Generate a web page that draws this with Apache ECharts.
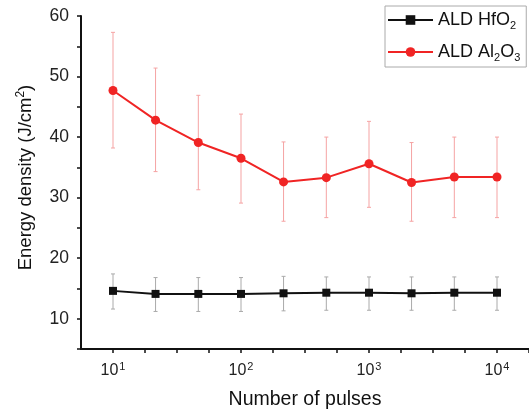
<!DOCTYPE html>
<html>
<head>
<meta charset="utf-8">
<script src="https://cdn.jsdelivr.net/npm/echarts@6/dist/echarts.min.js"></script>
<style>
  html, body { margin: 0; padding: 0; background: #fff; }
  #chart { width: 529px; height: 415px; }
</style>
</head>
<body>
<div id="chart"></div>
<script>
// number of pulses (x, log scale)
const pulses = [10, 21.5, 46.4, 100, 215, 464, 1000, 2150, 4640, 10000];

// ALD HfO2
const hfo2 = [14.6, 14.1, 14.1, 14.1, 14.2, 14.3, 14.3, 14.2, 14.3, 14.3];
const hfo2Low = [11.6, 11.2, 11.2, 11.2, 11.3, 11.4, 11.4, 11.4, 11.4, 11.4];
const hfo2High = [17.4, 16.8, 16.8, 16.8, 17.0, 16.9, 16.9, 16.9, 16.9, 16.9];

// ALD Al2O3
const al2o3 = [47.7, 42.8, 39.1, 36.5, 32.6, 33.3, 35.6, 32.5, 33.4, 33.4];
const al2o3Low = [38.2, 34.3, 31.3, 29.1, 26.1, 26.7, 28.4, 26.1, 26.7, 26.7];
const al2o3High = [57.3, 51.4, 46.9, 43.8, 39.2, 40.0, 42.6, 39.1, 40.0, 40.0];

// x tick exponents (quarter decades) and labelled decades
const xTickExp = [1, 1.25, 1.5, 1.75, 2, 2.25, 2.5, 2.75, 3, 3.25, 3.5, 3.75, 4, 4.25];
const xLabelExp = [1, 2, 3, 4];

const FONT = '"Liberation Sans", Arial, sans-serif';

function pairs(xs, ys) {
    return xs.map(function (x, i) { return [x, ys[i]]; });
}
function errData(xs, lo, hi) {
    return xs.map(function (x, i) { return [x, lo[i], hi[i]]; });
}
function errRender(color) {
    return function (params, api) {
        let top = api.coord([api.value(0), api.value(2)]);
        let bot = api.coord([api.value(0), api.value(1)]);
        let cap = 2;
        let st = { stroke: color, lineWidth: 1 };
        return {
            type: 'group',
            children: [
                { type: 'line', shape: { x1: top[0], y1: top[1], x2: bot[0], y2: bot[1] }, style: st },
                { type: 'line', shape: { x1: top[0] - cap, y1: top[1], x2: top[0] + cap, y2: top[1] }, style: st },
                { type: 'line', shape: { x1: bot[0] - cap, y1: bot[1], x2: bot[0] + cap, y2: bot[1] }, style: st }
            ]
        };
    };
}

let chart = echarts.init(document.getElementById('chart'));
let option = {
    backgroundColor: '#fff',
    animation: false,
    textStyle: { fontFamily: FONT },
    grid: { left: 81, right: 0, top: 16, bottom: 64 },
    legend: {
        left: 385,
        top: 6,
        orient: 'vertical',
        data: ['ALD HfO2', 'ALD Al2O3'],
        itemWidth: 45,
        itemHeight: 12,
        itemGap: 12,
        padding: [5, 6, 4, 2],
        borderColor: '#aaa',
        borderWidth: 1,
        textStyle: {
            fontFamily: FONT, fontSize: 18, color: '#111',
            rich: {
                n: { fontSize: 18, fontFamily: FONT, color: '#111' },
                sub: { fontSize: 11, fontFamily: FONT, color: '#111', padding: [11, 0, 0, 0] }
            }
        },
        formatter: function (name) {
            if (name === 'ALD HfO2') return '{n|ALD HfO}{sub|2}';
            return '{n|ALD Al}{sub|2}{n|O}{sub|3}';
        }
    },
    xAxis: {
        type: 'log',
        logBase: 10,
        min: Math.pow(10, 0.75),
        max: Math.pow(10, 4.25),
        name: 'Number of pulses',
        nameLocation: 'middle',
        nameGap: 41,
        nameTextStyle: { fontFamily: FONT, fontSize: 19.5, color: '#111' },
        axisLine: { lineStyle: { color: '#111', width: 2 } },
        axisTick: {
            inside: false, length: 4,
            lineStyle: { color: '#111', width: 1.5 },
            customValues: xTickExp.map(function (e) { return Math.pow(10, e); })
        },
        axisLabel: {
            margin: 12,
            customValues: xLabelExp.map(function (e) { return Math.pow(10, e); }),
            formatter: function (v) {
                return '{b|10}{sup|' + Math.round(Math.log10(v)) + '}';
            },
            rich: {
                b: { fontSize: 16, fontFamily: FONT, color: '#222' },
                sup: { fontSize: 11, fontFamily: FONT, color: '#222', padding: [0, 0, 9, 1] }
            }
        },
        splitLine: { show: false },
        minorSplitLine: { show: false }
    },
    yAxis: {
        type: 'value',
        min: 5,
        max: 60,
        interval: 5,
        name: 'Energy density (J/cm{sup|2})',
        nameLocation: 'middle',
        nameGap: 44,
        nameTextStyle: {
            fontFamily: FONT, fontSize: 18.5, color: '#111',
            padding: [0, 0, 0, 10],
            rich: {
                sup: { fontSize: 12, fontFamily: FONT, color: '#111', padding: [0, 0, 10, 0] }
            }
        },
        axisLine: { show: true, lineStyle: { color: '#111', width: 2 } },
        axisTick: { show: true, length: 4, lineStyle: { color: '#111', width: 1.5 } },
        axisLabel: {
            margin: 12,
            fontSize: 17.5,
            color: '#222',
            fontFamily: FONT,
            formatter: function (v) { return v % 10 === 0 ? String(v) : ''; }
        },
        splitLine: { show: false }
    },
    series: [
        {
            name: 'err HfO2',
            type: 'custom',
            renderItem: errRender('#aaaaaa'),
            data: errData(pulses, hfo2Low, hfo2High),
            encode: { x: 0, y: [1, 2] },
            z: 1,
            silent: true
        },
        {
            name: 'err Al2O3',
            type: 'custom',
            renderItem: errRender('#f5a3a3'),
            data: errData(pulses, al2o3Low, al2o3High),
            encode: { x: 0, y: [1, 2] },
            z: 1,
            silent: true
        },
        {
            name: 'ALD HfO2',
            type: 'line',
            data: pairs(pulses, hfo2),
            symbol: 'rect',
            symbolSize: 8,
            color: '#111',
            lineStyle: { color: '#111', width: 2 },
            itemStyle: { color: '#111' },
            z: 3
        },
        {
            name: 'ALD Al2O3',
            type: 'line',
            data: pairs(pulses, al2o3),
            symbol: 'circle',
            symbolSize: 9,
            color: '#f02424',
            lineStyle: { color: '#f02424', width: 2 },
            itemStyle: { color: '#f02424' },
            z: 3
        }
    ]
};
chart.setOption(option, true);
window.addEventListener('resize', function () {
    chart.resize();
});
</script>
</body>
</html>
